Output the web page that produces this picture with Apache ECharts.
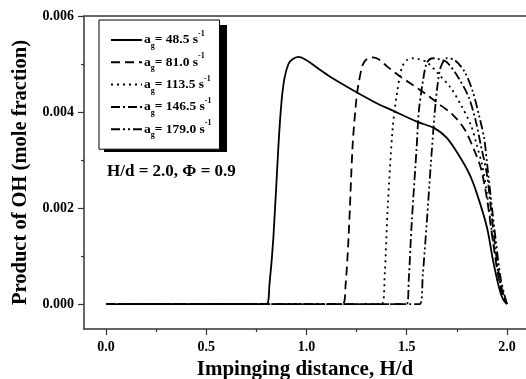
<!DOCTYPE html>
<html>
<head>
<meta charset="utf-8">
<script src="https://cdn.jsdelivr.net/npm/echarts@6/dist/echarts.min.js"></script>
<style>
  html, body { margin: 0; padding: 0; background: #fff; }
  #chart { width: 526px; height: 379px; }
</style>
</head>
<body>
<div id="chart"></div>
<script>
// strain rates shown in the legend
const strainRates = ['48.5', '81.0', '113.5', '146.5', '179.0'];

// [H/d, OH mole fraction]
const oh48 = [[0,0],[0.80,0],[0.815,0.0004],[0.835,0.0014],[0.86,0.0033],[0.875,0.0042],[0.89,0.0047],[0.91,0.0050],[0.93,0.0051],[0.96,0.00515],[1.0,0.00508],[1.06,0.0049],[1.12,0.00473],[1.23,0.00446],[1.365,0.00415],[1.41,0.00407],[1.55,0.0038],[1.64,0.00366],[1.70,0.00346],[1.76,0.0031],[1.81,0.00273],[1.85,0.0023],[1.90,0.0016],[1.93,0.00092],[1.96,0.00035],[1.98,0.0001],[2.0,0]];
const oh81 = [[0,0],[1.18,0],[1.195,0.0004],[1.21,0.0014],[1.23,0.0033],[1.245,0.0041],[1.256,0.0045],[1.28,0.00498],[1.30,0.0051],[1.33,0.00514],[1.36,0.0051],[1.405,0.00494],[1.46,0.00476],[1.51,0.00462],[1.58,0.00442],[1.65,0.0042],[1.73,0.00394],[1.79,0.00363],[1.84,0.00317],[1.87,0.00283],[1.90,0.0022],[1.93,0.0013],[1.96,0.0005],[1.98,0.00015],[2.0,0]];
const oh113 = [[0,0],[1.375,0],[1.39,0.0006],[1.405,0.002],[1.43,0.00367],[1.45,0.00435],[1.475,0.00492],[1.50,0.00508],[1.53,0.00512],[1.56,0.0051],[1.60,0.00504],[1.65,0.00483],[1.72,0.0045],[1.77,0.00415],[1.82,0.00373],[1.85,0.0033],[1.876,0.0029],[1.90,0.0023],[1.925,0.0015],[1.95,0.0008],[1.975,0.0003],[2.0,0]];
const oh146 = [[0,0],[1.50,0],[1.51,0.0005],[1.525,0.0017],[1.55,0.0033],[1.56,0.004],[1.58,0.00462],[1.60,0.00502],[1.63,0.00512],[1.66,0.0051],[1.70,0.00504],[1.76,0.0047],[1.81,0.0043],[1.845,0.0038],[1.87,0.0033],[1.90,0.0027],[1.925,0.0018],[1.95,0.0009],[1.975,0.0003],[2.0,0]];
const oh179 = [[0,0],[1.565,0],[1.58,0.0006],[1.60,0.0017],[1.62,0.0029],[1.64,0.0040],[1.655,0.0046],[1.67,0.00494],[1.70,0.00512],[1.74,0.00508],[1.79,0.00483],[1.83,0.00442],[1.86,0.00394],[1.886,0.00346],[1.90,0.00296],[1.92,0.0022],[1.945,0.0013],[1.97,0.0005],[2.0,0]];

const xMajor = [0, 0.5, 1.0, 1.5, 2.0];
const xMinor = [0.25, 0.75, 1.25, 1.75];
const yMajor = [0, 0.002, 0.004, 0.006];
const yMinor = [0.001, 0.003, 0.005];

const seriesData = [oh48, oh81, oh113, oh146, oh179];
const dashes = ['solid', [9, 5], [2, 4], [9, 3, 2, 3], [9, 3, 2, 3, 2, 3]];

const font = 'Liberation Serif';
const axisColor = '#333';

const chart = echarts.init(document.getElementById('chart'), null, {renderer: 'canvas'});

const options = {
  backgroundColor: '#fff',
  animation: false,
  grid: {left: 84, right: 0, top: 16, bottom: 50, containLabel: false, outerBoundsMode: 'none'},
  legend: {
    orient: 'vertical',
    left: 99,
    top: 20,
    z: 10,
    padding: [10, 8, 10, 11],
    itemWidth: 31,
    itemHeight: 14,
    itemGap: 2.3,
    backgroundColor: '#fff',
    borderColor: '#000',
    borderWidth: 1,
    itemStyle: {opacity: 0},
    formatter: (name) => `{a|a}{g|g}{t|= ${name} s}{s|-1}`,
    textStyle: {
      color: '#000',
      fontFamily: font,
      fontWeight: 'bold',
      fontSize: 13.5,
      padding: [0, 0, 0, -3],
      rich: {
        a: {fontFamily: font, fontWeight: 'bold', fontSize: 13.5, lineHeight: 20},
        g: {fontFamily: font, fontWeight: 'bold', fontSize: 8, verticalAlign: 'bottom', lineHeight: 8},
        t: {fontFamily: font, fontWeight: 'bold', fontSize: 13.5, lineHeight: 20},
        s: {fontFamily: font, fontWeight: 'bold', fontSize: 8, verticalAlign: 'top', lineHeight: 8}
      }
    },
    data: strainRates
  },
  graphic: [
    {
      // drop shadow behind the legend box
      type: 'rect',
      z: 1,
      shape: {x: 104, y: 25, width: 123, height: 127},
      style: {fill: '#000'}
    },
    {
      type: 'text',
      left: 107,
      top: 163,
      style: {
        text: 'H/d = 2.0, Φ = 0.9',
        font: `bold 17px "${font}"`,
        fill: '#000'
      }
    }
  ],
  xAxis: [
    {
      type: 'value',
      min: -0.11,
      max: 2.095,
      name: 'Impinging distance, H/d',
      nameLocation: 'middle',
      nameGap: 28,
      nameTextStyle: {fontFamily: font, fontWeight: 'bold', fontSize: 21, color: '#000'},
      axisLine: {show: true, onZero: false, lineStyle: {color: axisColor, width: 1.5}},
      axisTick: {show: true, inside: false, length: 6, customValues: xMajor, lineStyle: {color: axisColor, width: 1.2}},
      axisLabel: {
        customValues: xMajor,
        margin: 11,
        fontFamily: font, fontWeight: 'bold', fontSize: 14, color: '#000',
        formatter: (v) => v.toFixed(1)
      },
      splitLine: {show: false}
    },
    {
      type: 'value',
      position: 'bottom',
      min: -0.11,
      max: 2.095,
      axisLine: {show: false, onZero: false},
      axisTick: {show: true, inside: false, length: 3, customValues: xMinor, lineStyle: {color: axisColor, width: 1.2}},
      axisLabel: {show: false},
      splitLine: {show: false}
    },
    {
      type: 'value',
      position: 'top',
      min: -0.11,
      max: 2.095,
      axisLine: {show: true, onZero: false, lineStyle: {color: '#666', width: 2}},
      axisTick: {show: false},
      axisLabel: {show: false},
      splitLine: {show: false}
    }
  ],
  yAxis: [
    {
      type: 'value',
      min: -0.00052,
      max: 0.006,
      name: 'Product of OH (mole fraction)',
      nameLocation: 'middle',
      nameGap: 51,
      nameTextStyle: {fontFamily: font, fontWeight: 'bold', fontSize: 20.5, color: '#000'},
      axisLine: {show: true, onZero: false, lineStyle: {color: axisColor, width: 1.5}},
      axisTick: {show: true, inside: false, length: 6, customValues: yMajor, lineStyle: {color: axisColor, width: 1.2}},
      axisLabel: {
        customValues: yMajor,
        margin: 10,
        fontFamily: font, fontWeight: 'bold', fontSize: 14, color: '#000',
        formatter: (v) => v.toFixed(3)
      },
      splitLine: {show: false}
    },
    {
      type: 'value',
      position: 'left',
      min: -0.00052,
      max: 0.006,
      axisLine: {show: false, onZero: false},
      axisTick: {show: true, inside: false, length: 3, customValues: yMinor, lineStyle: {color: axisColor, width: 1.2}},
      axisLabel: {show: false},
      splitLine: {show: false}
    }
  ],
  series: strainRates.map((r, i) => ({
    type: 'line',
    name: r,
    data: seriesData[i],
    xAxisIndex: 0,
    yAxisIndex: 0,
    symbol: 'none',
    smooth: 0.3,
    z: 5 - i,
    lineStyle: {color: '#000', width: 1.8, type: dashes[i]},
    itemStyle: {color: '#000'}
  }))
};

chart.setOption(options);
</script>
</body>
</html>
